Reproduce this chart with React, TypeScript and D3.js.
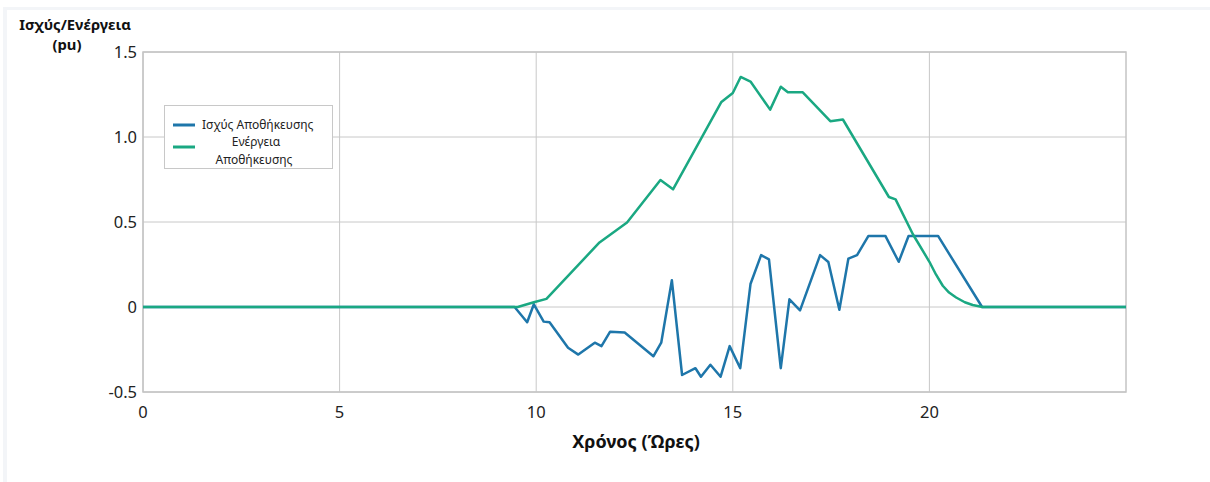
import * as d3 from 'd3';

// Ισχύς Αποθήκευσης (pu) vs time (hours)
const powerHours = [0, 9.45, 9.77, 9.94, 10.19, 10.34, 10.81, 11.07, 11.49, 11.66, 11.88, 12.25, 12.98, 13.18, 13.45, 13.71, 14.05, 14.19, 14.43, 14.69, 14.92, 15.19, 15.45, 15.72, 15.92, 16.22, 16.44, 16.71, 17.22, 17.43, 17.71, 17.94, 18.16, 18.45, 18.88, 19.22, 19.47, 20.22, 21.34, 25];
const powerValues = [0, 0, -0.09, 0.016, -0.086, -0.09, -0.24, -0.28, -0.21, -0.23, -0.145, -0.15, -0.29, -0.21, 0.158, -0.4, -0.36, -0.41, -0.34, -0.41, -0.23, -0.36, 0.135, 0.305, 0.28, -0.36, 0.045, -0.02, 0.305, 0.265, -0.016, 0.285, 0.305, 0.418, 0.418, 0.266, 0.418, 0.418, 0, 0];

// Ενέργεια Αποθήκευσης (pu) vs time (hours)
const energyHours = [0, 9.53, 9.94, 10.26, 11.61, 12.31, 13.16, 13.48, 14.71, 15.0, 15.2, 15.45, 15.95, 16.22, 16.4, 16.78, 17.48, 17.8, 18.97, 19.14, 19.58, 20.0, 20.17, 20.34, 20.5, 20.68, 20.9, 21.1, 21.35, 25];
const energyValues = [0, 0, 0.028, 0.048, 0.38, 0.497, 0.747, 0.692, 1.206, 1.259, 1.353, 1.326, 1.161, 1.296, 1.263, 1.263, 1.093, 1.103, 0.647, 0.633, 0.428, 0.266, 0.19, 0.125, 0.085, 0.056, 0.028, 0.012, 0, 0];

const xTicks = [0, 5, 10, 15, 20];
const yTicks = [-0.5, 0, 0.5, 1.0, 1.5];
const yTickLabels = ['-0.5', '0', '0.5', '1.0', '1.5'];

const seriesNames = ['Ισχύς Αποθήκευσης', 'Ενέργεια Αποθήκευσης'];
const colors = ['#1e76aa', '#1aa882'];

const width = 1210;
const height = 482;
const margin = { top: 52, right: 84, bottom: 90, left: 143 };

export default function App() {
  const x = d3.scaleLinear().domain([0, 25]).range([margin.left, width - margin.right]);
  const y = d3.scaleLinear().domain([-0.5, 1.5]).range([height - margin.bottom, margin.top]);

  const line = d3
    .line<[number, number]>()
    .x((d) => x(d[0]))
    .y((d) => y(d[1]));

  const powerPts = powerHours.map((h, i) => [h, powerValues[i]] as [number, number]);
  const energyPts = energyHours.map((h, i) => [h, energyValues[i]] as [number, number]);

  const font = '"Noto Sans", "Open Sans", sans-serif';
  const x0 = margin.left;
  const x1 = width - margin.right;
  const yTop = margin.top;
  const yBot = height - margin.bottom;

  return (
    <svg
      width={width}
      height={height}
      style={{ position: 'absolute', left: 0, top: 0, background: '#fff' }}
      fontFamily={font}
    >
      {/* panel frame */}
      <rect x={3} y={7} width={width - 3} height={3} fill="#f3f5f8" />
      <rect x={3} y={7} width={4} height={height - 7} fill="#f3f5f8" />

      {/* grid */}
      {xTicks.map((t) => (
        <line key={'gx' + t} x1={x(t)} x2={x(t)} y1={yTop} y2={yBot} stroke="#c8c8c8" strokeWidth={1} />
      ))}
      {yTicks.map((t) => (
        <line key={'gy' + t} x1={x0} x2={x1} y1={y(t)} y2={y(t)} stroke="#c8c8c8" strokeWidth={1} />
      ))}
      <rect x={x0} y={yTop} width={x1 - x0} height={yBot - yTop} fill="none" stroke="#c4c4c4" strokeWidth={1.5} />

      {/* tick labels */}
      {yTicks.map((t, i) => (
        <text key={'ly' + t} x={x0 - 6} y={y(t)} dy="0.35em" textAnchor="end" fontSize={16.5} fill="#222">
          {yTickLabels[i]}
        </text>
      ))}
      {xTicks.map((t) => (
        <text key={'lx' + t} x={x(t)} y={yBot + 26} textAnchor="middle" fontSize={16.5} fill="#222">
          {t}
        </text>
      ))}

      {/* series */}
      <path d={line(powerPts) || ''} fill="none" stroke={colors[0]} strokeWidth={2.5} strokeLinejoin="round" />
      <path d={line(energyPts) || ''} fill="none" stroke={colors[1]} strokeWidth={2.5} strokeLinejoin="round" />

      {/* axis titles */}
      <text x={75} y={30} textAnchor="middle" fontSize={14.8} fontWeight="bold" fill="#111">
        Ισχύς/Ενέργεια
      </text>
      <text x={67} y={50} textAnchor="middle" fontSize={14.8} fontWeight="bold" fill="#111">
        (pu)
      </text>
      <text x={636} y={448} textAnchor="middle" fontSize={18} fontWeight="bold" fill="#111">
        Χρόνος (Ώρες)
      </text>

      {/* legend */}
      <g>
        <rect x={164.5} y={105.5} width={168} height={63} fill="#fff" stroke="#c8c8c8" strokeWidth={1} />
        <line x1={173} x2={195} y1={125} y2={125} stroke={colors[0]} strokeWidth={3} />
        <text x={202} y={125} dy="0.35em" fontSize={12} fill="#222">
          {seriesNames[0]}
        </text>
        <line x1={173} x2={195} y1={147} y2={147} stroke={colors[1]} strokeWidth={3} />
        <text x={256} y={142} dy="0.35em" textAnchor="middle" fontSize={12} fill="#222">
          {seriesNames[1].split(' ')[0]}
        </text>
        <text x={254} y={160} dy="0.35em" textAnchor="middle" fontSize={12} fill="#222">
          {seriesNames[1].split(' ')[1]}
        </text>
      </g>
    </svg>
  );
}
